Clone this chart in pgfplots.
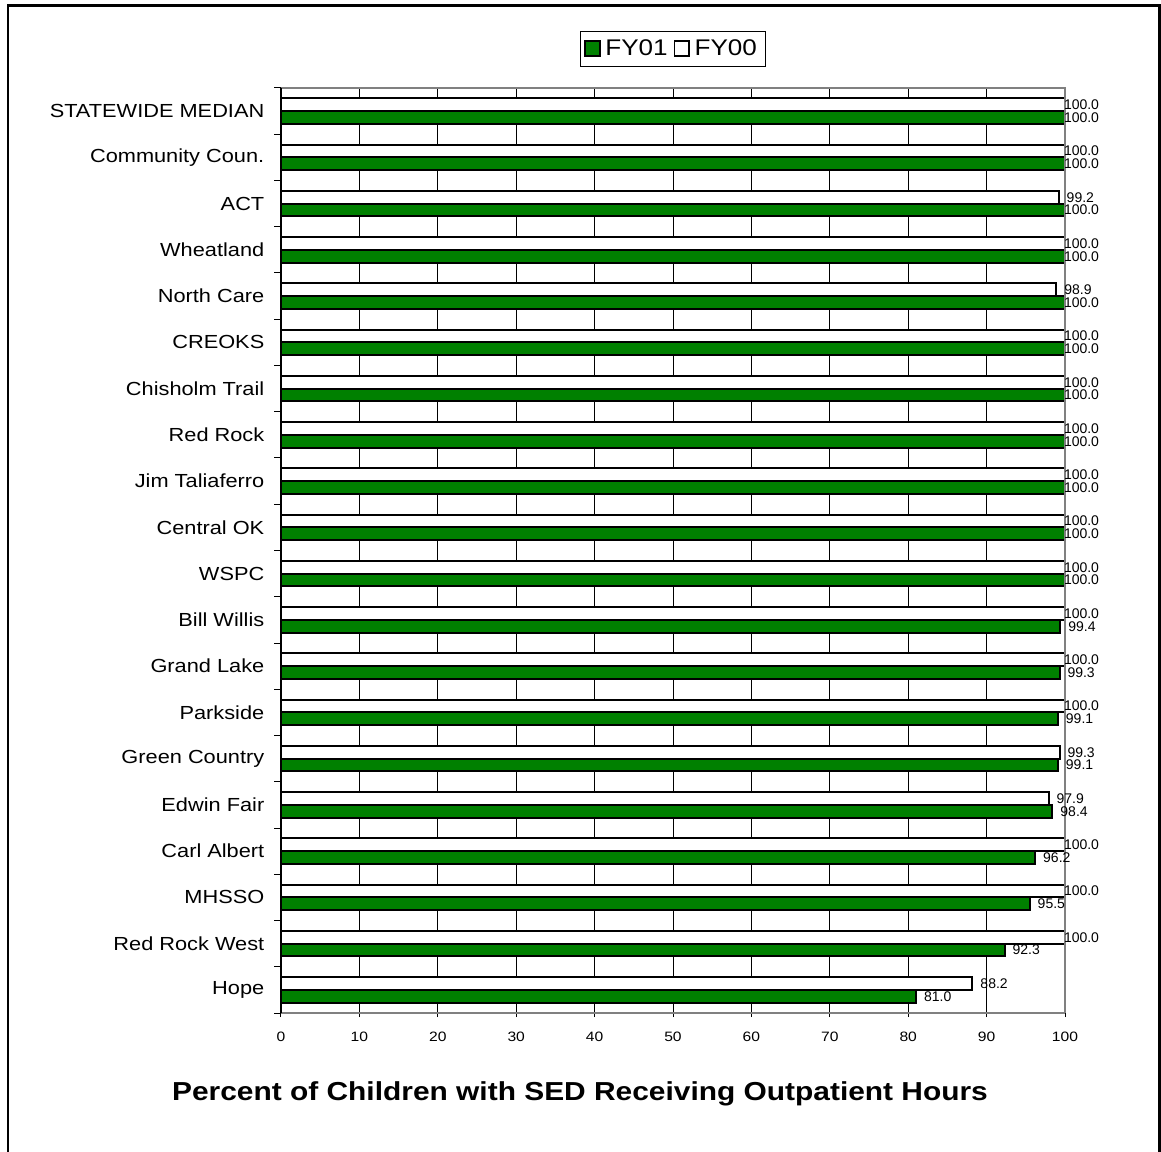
\documentclass[border=0pt]{standalone}
\usepackage{fontspec}
\setmainfont[FakeStretch=1.15]{Liberation Sans}
\newfontfamily\plainfont{Liberation Sans}
\usepackage{pgfplots}
\usepackage{pgfplotstable}
\pgfplotsset{compat=1.18}
\definecolor{barGreen}{RGB}{0,128,0}
\definecolor{axGray}{RGB}{128,128,128}

% idx: 0 = top category
\pgfplotstableread{
idx fy01 fy00 d01 d00
0  100.0 100.0 -1.5 -1.5
1  100.0 100.0 -1.5 -1.5
2  100.0 99.2  -1.5 5.25
3  100.0 100.0 -1.5 -1.5
4  100.0 98.9  -1.5 5.25
5  100.0 100.0 -1.5 -1.5
6  100.0 100.0 -1.5 -1.5
7  100.0 100.0 -1.5 -1.5
8  100.0 100.0 -1.5 -1.5
9  100.0 100.0 -1.5 -1.5
10 100.0 100.0 -1.5 -1.5
11 99.4  100.0 5.25 -1.5
12 99.3  100.0 5.25 -1.5
13 99.1  100.0 5.25 -1.5
14 99.1  99.3  5.25 5.25
15 98.4  97.9  5.25 5.25
16 96.2  100.0 5.25 -1.5
17 95.5  100.0 5.25 -1.5
18 92.3  100.0 5.25 -1.5
19 81.0  88.2  5.25 5.25
}\datatable

\begin{document}
\begin{tikzpicture}
\useasboundingbox (0,0) rectangle (870.75pt,864pt);
\draw[line width=2pt] (6pt,-10pt) -- (6pt,860pt) -- (869.5pt,860pt) -- (869.5pt,-10pt);
\begin{axis}[
  at={(210.75pt,104.25pt)}, anchor=south west,
  scale only axis, width=588pt, height=693.75pt,
  xbar, bar width=9.5pt,
  xmin=0, xmax=100, ymin=-0.5, ymax=19.5,
  y dir=reverse,
  axis line style={draw=none},
  xtick={0,10,...,100},
  xtick pos=bottom, ytick pos=left,
  xmajorgrids, major grid style={black, line width=0.6pt},
  ytick={0,...,19},
  yticklabels={STATEWIDE MEDIAN,Community Coun.,ACT,Wheatland,North Care,CREOKS,Chisholm Trail,Red Rock,Jim Taliaferro,Central OK,WSPC,Bill Willis,Grand Lake,Parkside,Green Country,Edwin Fair,Carl Albert,MHSSO,Red Rock West,Hope},
  minor ytick={-0.5,0.5,...,19.5},
  tick align=outside,
  major tick length=3pt, minor tick length=5.25pt,
  major y tick style={draw=none},
  minor y tick style={draw=black, line width=0.75pt},
  major x tick style={draw=black, line width=0.75pt},
  /pgf/number format/assume math mode=true,
  yticklabel style={font=\fontsize{14.2}{17}\selectfont, anchor=east, xshift=-6pt},
  xticklabel style={font=\fontsize{10.2}{12}\selectfont, yshift=-8pt},
  legend style={at={(0.5,1)}, anchor=south, yshift=16pt, legend columns=2,
    draw=black, line width=0.75pt, font=\fontsize{17}{20}\selectfont,
    inner xsep=3pt, inner ysep=4.5pt, nodes={inner xsep=3.5pt},
    /tikz/every even column/.append style={column sep=1pt}},
  legend image code/.code={\draw[#1, line width=1.2pt] (0pt,-5.5pt) rectangle (11pt,5.5pt);},
  point meta=x,
  nodes near coords={\pgfmathprintnumber[fixed,fixed zerofill,precision=1]{\pgfplotspointmeta}},
  every node near coord/.append style={font=\plainfont\fontsize{10.5}{12}\selectfont, anchor=west, inner sep=0pt},
  clip=false,
]
\addplot[fill=barGreen, draw=black, line width=1.5pt, bar shift=-4.75pt,
  visualization depends on={\thisrow{d01} \as \dx},
  nodes near coords style={xshift=\dx pt}]
  table[x=fy01, y=idx] {\datatable};
\addlegendentry{FY01}
\addplot[fill=white, draw=black, line width=1.5pt, bar shift=4.75pt,
  visualization depends on={\thisrow{d00} \as \dx},
  nodes near coords style={xshift=\dx pt}]
  table[x=fy00, y=idx] {\datatable};
\addlegendentry{FY00}
\draw[axGray, line width=1.5pt] (axis cs:0,19.5) -- (axis cs:100,19.5);
\draw[axGray, line width=1.5pt] (axis cs:100,19.5) -- (axis cs:100,-0.5) -- (axis cs:0,-0.5);
\draw[black, line width=1.2pt] (axis cs:0,-0.5) -- (axis cs:0,19.5);
\end{axis}
\node[font=\bfseries\fontsize{19.5}{23}\selectfont] at (435pt,43.5pt) {Percent of Children with SED Receiving Outpatient Hours};
\end{tikzpicture}
\end{document}
